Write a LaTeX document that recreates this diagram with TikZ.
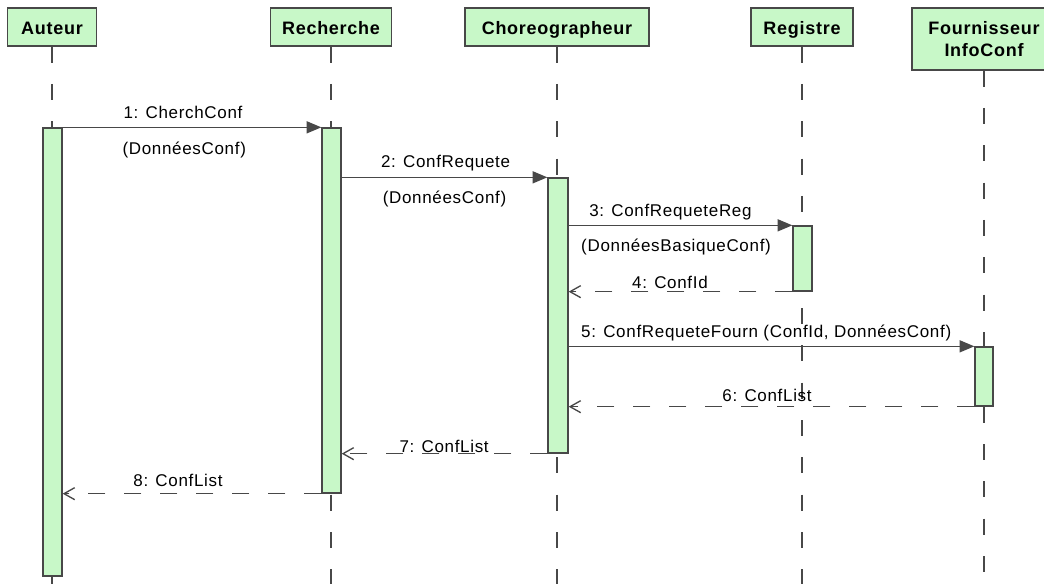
\documentclass[tikz,border=0pt]{standalone}
\usepackage{fontspec}
\setmainfont{Liberation Sans}
\newfontfamily\lblfont[LetterSpace=4]{Liberation Sans}
\newfontfamily\hdrfont[LetterSpace=4]{Liberation Sans}
\usepackage{xcolor}
\usepackage{tikz}
\usetikzlibrary{arrows.meta, positioning, fit}

\definecolor{lifegreen}{RGB}{200,248,200}
\definecolor{linegray}{RGB}{72,72,72}

\begin{document}
\begin{tikzpicture}[
    x=0.75pt, y=-0.75pt,
    actor/.style={draw=linegray, fill=lifegreen, line width=1pt, minimum height=28.5pt, inner sep=2pt, text height=12.5pt, text depth=1.5pt, align=center, font=\hdrfont\fontsize{13.5}{17}\selectfont\bfseries},
    bar/.style={draw=linegray, fill=lifegreen, line width=1pt, inner sep=0pt},
    life/.style={draw=linegray, line width=1pt, dash pattern=on 12pt off 16pt},
    msg/.style={draw=linegray, line width=1pt, -{Triangle[length=11pt, width=9pt]}},
    ret/.style={draw=linegray, line width=1pt, dash pattern=on 13pt off 14pt, -{Straight Barb[length=8pt, width=9pt]}},
    lbl/.style={font=\lblfont\fontsize{12.75}{14}\selectfont, inner sep=0pt, anchor=base}
]
\clip (0,0) rectangle (1044,584);
\coordinate (bot) at (0,584);

% Participants
\node[actor, minimum width=66.75pt] (auteur) at (52,27) {Auteur};
\node[actor, minimum width=90.75pt] (recherche) at (331,27) {Recherche};
\node[actor, minimum width=138pt] (choreo) at (557,27) {Choreographeur};
\node[actor, minimum width=76.5pt] (registre) at (802,27) {Registre};
\node[actor, minimum width=108pt, minimum height=46.5pt, text height=, text depth=] (fournisseur) at (984,39) {Fournisseur\\InfoConf};

% Lifelines
\draw[life] (auteur.south) -- (auteur.south |- bot);
\draw[life] (recherche.south) -- (recherche.south |- bot);
\draw[life] (choreo.south) -- (choreo.south |- bot);
\draw[life] (registre.south) -- (registre.south |- bot);
\draw[life] (fournisseur.south) -- (fournisseur.south |- bot);

% Activations
\node[bar, fit={(43,128) (62,576)}] (actA) {};
\node[bar, fit={(322,128) (341,493)}] (actR) {};
\node[bar, fit={(548,178) (568,453)}] (actC) {};
\node[bar, fit={(793,226) (812,291)}] (actG) {};
\node[bar, fit={(975,347) (993,406)}] (actF) {};

% Messages
\draw[msg] (actA.north east) -- node[lbl, pos=0.465, yshift=6.75pt] {1: CherchConf}
    node[lbl, pos=0.47, yshift=-20.25pt] {(DonnéesConf)} (actR.north west);
\draw[msg] (actR.east |- actC.north) -- node[lbl, pos=0.505, yshift=7pt] {2: ConfRequete}
    node[lbl, pos=0.5, yshift=-20pt] {(DonnéesConf)} (actC.north west);
\draw[msg] (actC.east |- actG.north) -- node[lbl, pos=0.455, yshift=6.75pt] {3: ConfRequeteReg}
    node[lbl, pos=0.48, yshift=-20pt] {(DonnéesBasiqueConf)} (actG.north west);
\draw[ret] (actG.south west) -- node[lbl, pos=0.547, yshift=2.25pt] {4: ConfId} (actC.east |- actG.south);
\draw[msg] (actC.east |- actF.north) -- node[lbl, pos=0.487, yshift=6.75pt] {5: ConfRequeteFourn (ConfId, DonnéesConf)} (actF.north west);
\draw[ret] (actF.south west) -- node[lbl, pos=0.511, yshift=3.75pt] {6: ConfList} (actC.east |- actF.south);
\draw[ret] (actC.south west) -- node[lbl, pos=0.502, yshift=1pt] {7: ConfList} (actR.east |- actC.south);
\draw[ret] (actR.south west) -- node[lbl, pos=0.554, yshift=5.25pt] {8: ConfList} (actA.east |- actR.south);

\end{tikzpicture}
\end{document}
